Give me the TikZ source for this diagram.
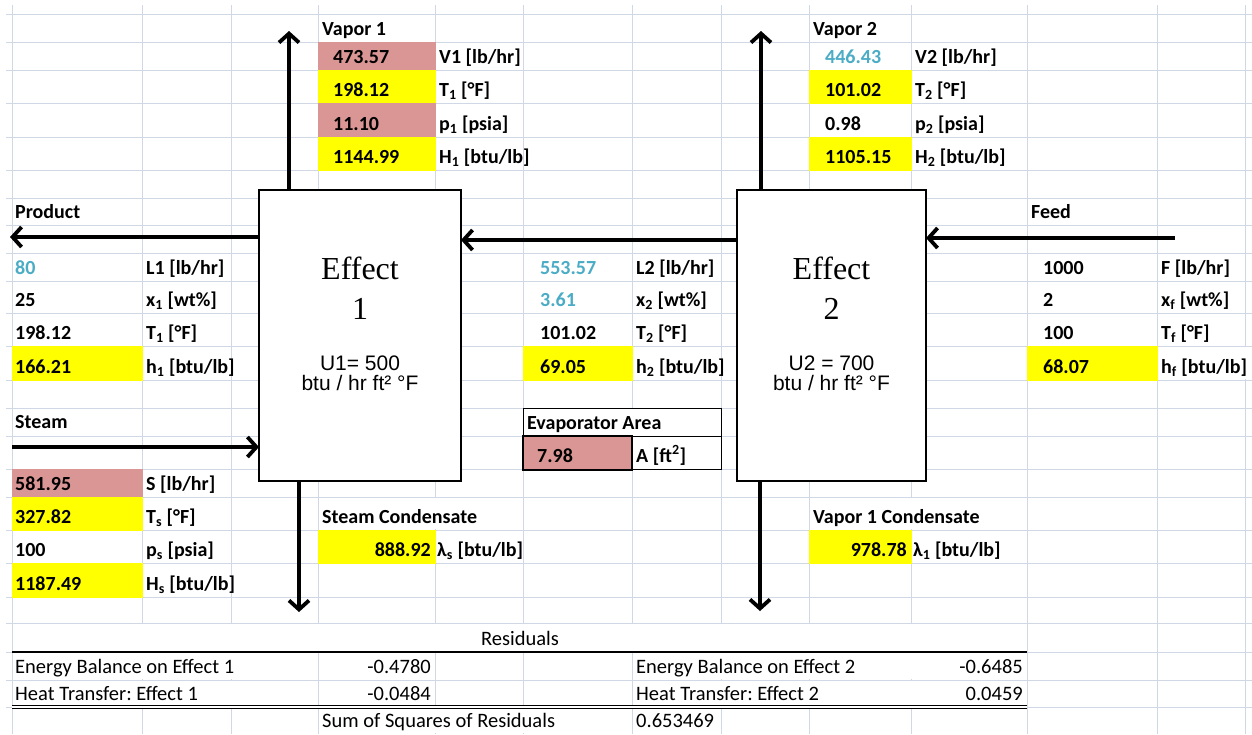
\documentclass[tikz,border=0pt]{standalone}
\usepackage{fontspec}
\setmainfont{Carlito}
\newfontfamily\tnrfont{Liberation Serif}
\newfontfamily\arialfont{Liberation Sans}
\usetikzlibrary{arrows.meta,calc}
\frenchspacing
\definecolor{gridc}{HTML}{D0D7E5}
\definecolor{pinkc}{HTML}{DA9694}
\definecolor{yellowc}{HTML}{FFFF00}
\definecolor{bluec}{HTML}{4BACC6}
\tikzset{
  cellb/.style={anchor=base west, inner sep=0pt, font=\fontsize{20}{24}\selectfont\bfseries},
  cellbr/.style={anchor=base east, inner sep=0pt, font=\fontsize{20}{24}\selectfont\bfseries},
  cellr/.style={anchor=base west, inner sep=0pt, font=\fontsize{20.5}{24}\selectfont},
  cellrr/.style={anchor=base east, inner sep=0pt, font=\fontsize{20.5}{24}\selectfont},
  blue/.style={text=bluec},
  gridline/.style={draw=gridc, line width=1pt},
  effbox/.style={draw=black, fill=white, line width=1.2pt, inner sep=0pt, outer sep=0pt, minimum height=291pt},
  efftitle/.style={anchor=base, inner sep=0pt, font=\tnrfont\fontsize{32}{36}\selectfont},
  effu/.style={anchor=base, inner sep=0pt, font=\arialfont\fontsize{21}{24}\selectfont},
  flow/.style={line width=3.8pt, -{Straight Barb[length=9pt,width=20pt]}},
  yfill/.style={fill=yellowc},
  pfill/.style={fill=pinkc}
}
\begin{document}
\begin{tikzpicture}[x=1pt,y=-1pt]
\useasboundingbox (0,0) rectangle (1252,734);
\fill[white] (0,0) rectangle (1252,734);
% ---------- grid ----------
\foreach \y in {14,42,70,103,137,170,198,225,253,281,313,346,380,408,436,469,497,530,563,597,623,652,680,707}
  \draw[gridline] (6,\y) -- (1252,\y);
\foreach \x in {12,142,231,318,435,523,632,721,809,911,1027,1157,1245}
  \draw[gridline] (\x,5) -- (\x,734);
% hidden vertical grid segments (text overflow / merged cells)
\foreach \x/\a/\b in {435/497/530, 911/497/530, 1245/346/380,
  142/623/652, 231/623/652, 318/623/652, 435/623/652, 523/623/652, 632/623/652, 721/623/652, 809/623/652, 911/623/652,
  142/652/680, 231/652/680, 721/652/680, 809/652/680, 911/652/680,
  142/680/707, 231/680/707, 721/680/707, 809/680/707, 911/680/707,
  435/707/734, 523/707/734}
  \fill[white] (\x-1.6,\a+1) rectangle (\x+1.6,\b-1);
% ---------- coloured cells ----------
\fill[pfill] (317.5,41.5) rectangle (435.5,70.5);
\fill[yfill] (317.5,69.5) rectangle (435.5,103.5);
\fill[pfill] (317.5,102.5) rectangle (435.5,137.5);
\fill[yfill] (317.5,136.5) rectangle (435.5,170.5);
\fill[yfill] (808.5,69.5) rectangle (911.5,103.5);
\fill[yfill] (808.5,136.5) rectangle (911.5,170.5);
\fill[yfill] (11.5,345.5) rectangle (142.5,380.5);
\fill[yfill] (522.5,345.5) rectangle (632.5,380.5);
\fill[yfill] (1026.5,345.5) rectangle (1157.5,380.5);
\fill[pfill] (11.5,468.5) rectangle (142.5,497.5);
\fill[yfill] (11.5,496.5) rectangle (142.5,530.5);
\fill[yfill] (11.5,562.5) rectangle (142.5,597.5);
\fill[yfill] (317.5,529.5) rectangle (435.5,563.5);
\fill[yfill] (808.5,529.5) rectangle (911.5,563.5);
% ---------- evaporator area box ----------
\fill[white] (523,408) rectangle (721,469.5);
\draw[black, line width=1pt] (523,408) rectangle (721,469.5);
\draw[black, line width=1pt] (523,436) -- (721,436);
\fill[pinkc] (523,436) rectangle (632,469.5);
\draw[black, line width=2pt] (523,436) rectangle (632,469.5);
% ---------- residual table borders ----------
\draw[black, line width=1.8pt] (12,652) -- (1027,652);
\fill[white] (12,705.5) rectangle (1027,708.5);
\draw[black, line width=0.9pt] (12,705.2) -- (1027,705.2);
\draw[black, line width=0.9pt] (12,708.8) -- (1027,708.8);
% ---------- effect boxes ----------
\node[effbox, minimum width=202pt] (E1) at (360,335.5) {};
\node[effbox, minimum width=189pt] (E2) at (831.5,335.5) {};
\node[efftitle] (E1t) at (360,279) {Effect};
\node[efftitle] (E1n) at (360,319) {1};
\node[effu] (E1u) at (360,370) {U1= 500};
\node[effu] (E1v) at (360,390) {btu / hr ft² °F};
\node[efftitle] (E2t) at (831.5,279) {Effect};
\node[efftitle] (E2n) at (831.5,319) {2};
\node[effu] (E2u) at (831.5,370) {U2 = 700};
\node[effu] (E2v) at (831.5,390) {btu / hr ft² °F};
% ---------- arrows ----------
\coordinate (V1top) at (289,31);
\coordinate (V2top) at (761,31);
\coordinate (Pend) at (10,237);
\coordinate (Mid) at (600,240);
\coordinate (Fstart) at (1175,238);
\coordinate (Sstart) at (12,447);
\coordinate (C1end) at (299,612);
\coordinate (C2end) at (760,611);
\draw[flow] (E1.north -| V1top) -- (V1top);
\draw[flow] (E2.north -| V2top) -- (V2top);
\draw[flow] (E1.west |- Pend) -- (Pend);
\draw[flow] (E2.west |- Mid) -- (E1.east |- Mid);
\draw[flow] (Fstart) -- (E2.east |- Fstart);
\draw[flow] (Sstart) -- (E1.west |- Sstart);
\draw[flow] (E1.south -| C1end) -- (C1end);
\draw[flow] (E2.south -| C2end) -- (C2end);
% ---------- Vapor 1 ----------
\node[cellb] (v1h) at (322,35) {Vapor 1};
\node[cellb] (v1a) at (333,63) {473.57};
\node[cellb] (v1al) at (439,63) {V1 [lb/hr]};
\node[cellb] (v1b) at (333,96) {198.12};
\node[cellb] (v1bl) at (439,96) {T\textsubscript{1} [°F]};
\node[cellb] (v1c) at (333,130) {11.10};
\node[cellb] (v1cl) at (439,130) {p\textsubscript{1} [psia]};
\node[cellb] (v1d) at (333,163) {1144.99};
\node[cellb] (v1dl) at (439,163) {H\textsubscript{1} [btu/lb]};
% ---------- Vapor 2 ----------
\node[cellb] (v2h) at (813,35) {Vapor 2};
\node[cellb, blue] (v2a) at (825,63) {446.43};
\node[cellb] (v2al) at (915,63) {V2 [lb/hr]};
\node[cellb] (v2b) at (825,96) {101.02};
\node[cellb] (v2bl) at (915,96) {T\textsubscript{2} [°F]};
\node[cellb] (v2c) at (825,130) {0.98};
\node[cellb] (v2cl) at (915,130) {p\textsubscript{2} [psia]};
\node[cellb] (v2d) at (825,163) {1105.15};
\node[cellb] (v2dl) at (915,163) {H\textsubscript{2} [btu/lb]};
% ---------- Product ----------
\node[cellb] (ph) at (15,218) {Product};
\node[cellb, blue] (pa) at (15,274) {80};
\node[cellb] (pal) at (146,274) {L1 [lb/hr]};
\node[cellb] (pb) at (15,306) {25};
\node[cellb] (pbl) at (146,306) {x\textsubscript{1} [wt\%]};
\node[cellb] (pc) at (15,339) {198.12};
\node[cellb] (pcl) at (146,339) {T\textsubscript{1} [°F]};
\node[cellb] (pd) at (15,373) {166.21};
\node[cellb] (pdl) at (146,373) {h\textsubscript{1} [btu/lb]};
% ---------- L2 ----------
\node[cellb, blue] (la) at (540,274) {553.57};
\node[cellb] (lal) at (636,274) {L2 [lb/hr]};
\node[cellb, blue] (lb) at (540,306) {3.61};
\node[cellb] (lbl) at (636,306) {x\textsubscript{2} [wt\%]};
\node[cellb] (lc) at (540,339) {101.02};
\node[cellb] (lcl) at (636,339) {T\textsubscript{2} [°F]};
\node[cellb] (ld) at (540,373) {69.05};
\node[cellb] (ldl) at (636,373) {h\textsubscript{2} [btu/lb]};
% ---------- Feed ----------
\node[cellb] (fh) at (1031,218) {Feed};
\node[cellb] (fa) at (1043,274) {1000};
\node[cellb] (fal) at (1161,274) {F [lb/hr]};
\node[cellb] (fb) at (1043,306) {2};
\node[cellb] (fbl) at (1161,306) {x\textsubscript{f} [wt\%]};
\node[cellb] (fc) at (1043,339) {100};
\node[cellb] (fcl) at (1161,339) {T\textsubscript{f} [°F]};
\node[cellb] (fd) at (1043,373) {68.07};
\node[cellb] (fdl) at (1161,373) {h\textsubscript{f} [btu/lb]};
% ---------- Steam ----------
\node[cellb] (sh) at (15,428) {Steam};
\node[cellb] (sa) at (15,490) {581.95};
\node[cellb] (sal) at (146,490) {S [lb/hr]};
\node[cellb] (sb) at (15,523) {327.82};
\node[cellb] (sbl) at (146,523) {T\textsubscript{s} [°F]};
\node[cellb] (sc) at (15,556) {100};
\node[cellb] (scl) at (146,556) {p\textsubscript{s} [psia]};
\node[cellb] (sd) at (15,590) {1187.49};
\node[cellb] (sdl) at (146,590) {H\textsubscript{s} [btu/lb]};
% ---------- condensates ----------
\node[cellb] (sch) at (322,523) {Steam Condensate};
\node[cellbr] (sca) at (431,556) {888.92};
\node[cellb] (scal) at (437,556) {λ\textsubscript{s} [btu/lb]};
\node[cellb] (vch) at (813,523) {Vapor 1 Condensate};
\node[cellbr] (vca) at (907,556) {978.78};
\node[cellb] (vcal) at (913,556) {λ\textsubscript{1} [btu/lb]};
% ---------- evaporator area ----------
\node[cellb] (eah) at (527,429) {Evaporator Area};
\node[cellb] (eaa) at (537,462) {7.98};
\node[cellb] (eal) at (636,462) {A [ft\textsuperscript{2}]};
% ---------- residuals ----------
\node[cellr, anchor=base] (rh) at (520,645) {Residuals};
\node[cellr] (r1) at (15,673) {Energy Balance on Effect 1};
\node[cellrr] (r1v) at (431,673) {-0.4780};
\node[cellr] (r2) at (636,673) {Energy Balance on Effect 2};
\node[cellrr] (r2v) at (1023,673) {-0.6485};
\node[cellr] (r3) at (15,700) {Heat Transfer: Effect 1};
\node[cellrr] (r3v) at (431,700) {-0.0484};
\node[cellr] (r4) at (636,700) {Heat Transfer: Effect 2};
\node[cellrr] (r4v) at (1023,700) {0.0459};
\node[cellr] (rs) at (322,727) {Sum of Squares of Residuals};
\node[cellr] (rsv) at (636,727) {0.653469};
\end{tikzpicture}
\end{document}
